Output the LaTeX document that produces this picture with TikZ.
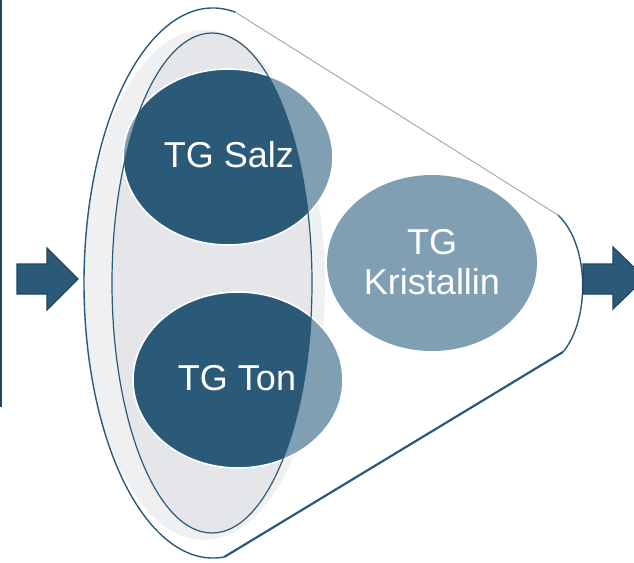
\documentclass[tikz,border=0pt]{standalone}
\usepackage{fontspec}
\setmainfont{Liberation Sans}
\definecolor{darkblue}{HTML}{2B5A78}
\definecolor{lightblue}{HTML}{809FB2}
\definecolor{edgeblue}{HTML}{1F4560}
\definecolor{greyA}{HTML}{EFF0F2}
\definecolor{greyB}{HTML}{E5E6E9}
\definecolor{thinline}{HTML}{8FA8BA}
\begin{document}
\begin{tikzpicture}[x=1pt,y=-1pt,
  lbl/.style={text=white,font=\fontsize{36}{40}\selectfont,inner sep=0pt,align=center},
  arrowshape/.style={fill=darkblue,draw=edgeblue,line width=1.2pt,line join=miter},
  outline/.style={draw=darkblue,line width=1.4pt},
  circleedge/.style={draw=white,line width=1.6pt}]
\clip (0,0) rectangle (634,562);
\useasboundingbox (0,0) rectangle (634,562);
% left vertical line
\draw[edgeblue,line width=2.5pt] (1,0) -- (1,407);
% grey background ellipses
\fill[greyA] (204,285) ellipse [x radius=121, y radius=255];
\fill[greyB] (212,283) ellipse [x radius=100, y radius=250];
% light versions of circles
\fill[lightblue] (228,157) ellipse [x radius=105, y radius=88];
\fill[lightblue] (238,380) ellipse [x radius=105, y radius=88];
\fill[lightblue] (432,263) ellipse [x radius=105, y radius=88];
% dark parts inside inner ellipse
\begin{scope}
  \clip (212,283) ellipse [x radius=100, y radius=250];
  \fill[darkblue] (228,157) ellipse [x radius=105, y radius=88];
  \fill[darkblue] (238,380) ellipse [x radius=105, y radius=88];
\end{scope}
\draw[circleedge] (228,157) ellipse [x radius=105, y radius=88];
\draw[circleedge] (238,380) ellipse [x radius=105, y radius=88];
% inner ellipse outline
\draw[darkblue,line width=1.2pt] (212,283) ellipse [x radius=100, y radius=250];
% funnel outline
\coordinate (ftop) at (235.4,12.2);
\coordinate (fbot) at (224.2,557);
\coordinate (rtop) at (558,215);
\coordinate (rbot) at (563,352);
\draw[outline] (ftop) arc[start angle=-80, end angle=-275, x radius=129, y radius=275];
\draw[darkblue,line width=2.2pt] (fbot) -- (rbot);
\draw[outline] (rbot) .. controls (590,320) and (590,245) .. (rtop);
\draw[thinline,line width=0.9pt] (rtop) -- (ftop);
% arrows
\draw[arrowshape] (17,264) -- (47,264) -- (47,248) -- (78,279) -- (47,310) -- (47,294) -- (17,294) -- cycle;
\draw[arrowshape] (583,264) -- (613,264) -- (613,247) -- (645,278) -- (613,309) -- (613,294) -- (583,294) -- cycle;
% labels
\node[lbl,anchor=base] (salz) at (229,167) {TG Salz};
\node[lbl,anchor=base] (ton) at (237,390) {TG Ton};
\node[lbl] (kris) at (432,262) {TG\\Kristallin};
\end{tikzpicture}
\end{document}
